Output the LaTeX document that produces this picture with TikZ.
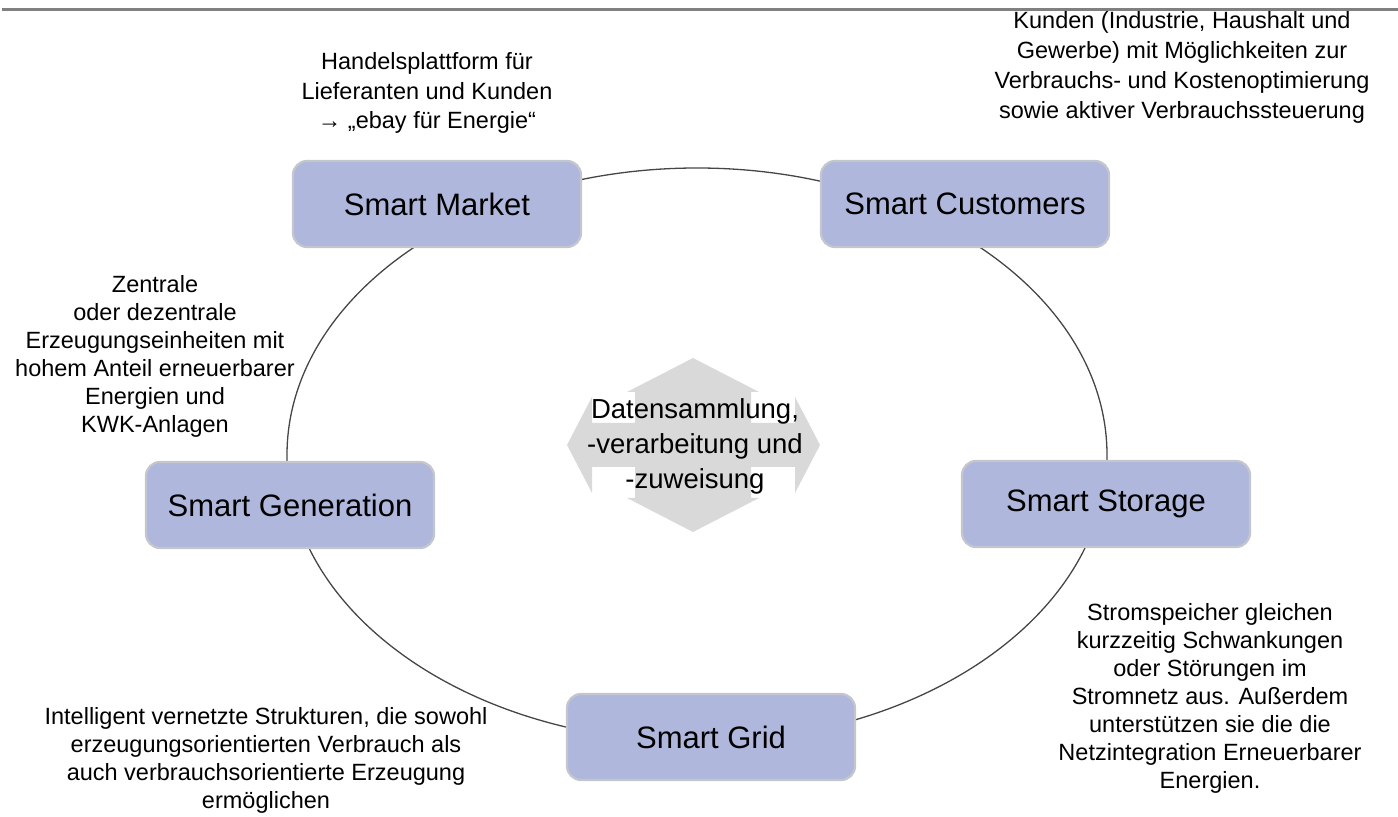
\documentclass[tikz,border=0pt]{standalone}
\usepackage{fontspec}
\setmainfont{Liberation Sans}
\definecolor{boxblue}{RGB}{175,184,220}
\definecolor{boxedge}{RGB}{196,198,206}
\definecolor{ringcol}{RGB}{70,70,70}
\definecolor{quadgray}{RGB}{217,217,217}
\definecolor{rulegray}{RGB}{128,128,128}
\tikzset{
  smartbox/.style={draw=boxedge, line width=1.1pt, fill=boxblue, rounded corners=7pt,
    minimum width=144pt, minimum height=43pt, inner sep=0pt,
    font=\fontsize{15.5}{18}\selectfont},
  note/.style={align=center, inner sep=0pt, font=\fontsize{11.75}{14}\selectfont},
  ring/.style={draw=ringcol, line width=0.65pt},
}
\begin{document}
\begin{tikzpicture}[x=0.5pt,y=-0.5pt]
\useasboundingbox (0,0) rectangle (1398,817);
% top rule
\coordinate (ruleL) at (2,9.5);
\coordinate (ruleR) at (1398,9.5);
\draw[rulegray, line width=1.5pt] (ruleL) -- (ruleR);
% ring
\coordinate (ringc) at (697,455);
\draw[ring] (ringc) ellipse [x radius=205pt, y radius=143.5pt];
% central quad arrow
\fill[quadgray] (693,358) -- (759,392) -- (751,392) -- (751,423) -- (795,423) -- (795,397)
  -- (820,445) -- (795,493) -- (795,467) -- (751,467) -- (751,498) -- (759,498)
  -- (693,532) -- (627,498) -- (635,498) -- (635,467) -- (592,467) -- (592,493)
  -- (567,445) -- (592,397) -- (592,423) -- (635,423) -- (635,392) -- (627,392) -- cycle;
\node[align=center, inner sep=0pt, font=\fontsize{13.75}{17.5}\selectfont] (center) at (695,446)
  {Datensammlung,\\-verarbeitung und\\-zuweisung};
% boxes
\node[smartbox] (market) at (437,204) {Smart Market};
\node[smartbox] (customers) at (965,204) {Smart Customers};
\node[smartbox] (generation) at (290,505) {Smart Generation};
\node[smartbox] (storage) at (1106,504) {Smart Storage};
\node[smartbox] (grid) at (711,737) {Smart Grid};
% notes
\node[note, font=\fontsize{11.75}{14.75}\selectfont] (marketnote) at (427,93)
  {Handelsplattform für\\Lieferanten und Kunden\\→ „ebay für Energie“};
\node[note, font=\fontsize{11.75}{15}\selectfont] (customersnote) at (1182,67)
  {Kunden (Industrie, Haushalt und\\Gewerbe) mit Möglichkeiten zur\\Verbrauchs- und Kostenoptimierung\\sowie aktiver Verbrauchssteuerung};
\node[note] (generationnote) at (155,356)
  {Zentrale\\oder dezentrale\\Erzeugungseinheiten mit\\hohem Anteil erneuerbarer\\Energien und\\KWK-Anlagen};
\node[note] (storagenote) at (1210,698)
  {Stromspeicher gleichen\\kurzzeitig Schwankungen\\oder Störungen im\\Stromnetz aus. Außerdem\\unterstützen sie die die\\Netzintegration Erneuerbarer\\Energien.};
\node[note] (gridnote) at (266,760)
  {Intelligent vernetzte Strukturen, die sowohl\\erzeugungsorientierten Verbrauch als\\auch verbrauchsorientierte Erzeugung\\ermöglichen};
\end{tikzpicture}
\end{document}
